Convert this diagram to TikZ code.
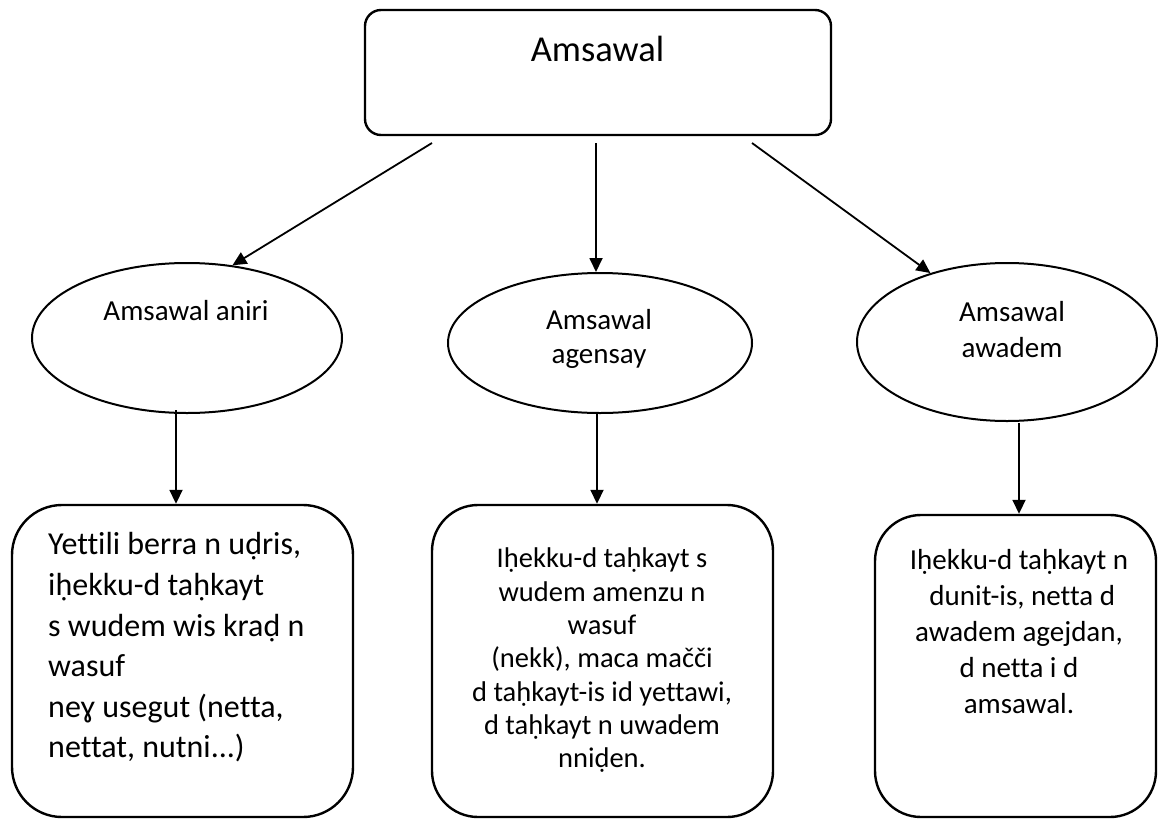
\documentclass[tikz,border=0pt]{standalone}
\usepackage{fontspec}
\setmainfont{Carlito}[Ligatures=NoCommon]
\usetikzlibrary{arrows.meta,shapes.geometric}
\tikzset{
  rbox/.style={draw, line width=2.4pt, rounded corners=#1, inner sep=0pt},
  oval/.style={draw, ellipse, line width=2pt, inner sep=0pt},
  arr/.style={line width=1.8pt, -{Triangle[length=14pt,width=13pt]}},
  txt/.style={inner sep=0pt, text=black},
}
\begin{document}
\begin{tikzpicture}[x=1pt,y=-1pt]
\useasboundingbox (0,0) rectangle (1158,819);
% top box
\node[rbox=16pt, minimum width=466pt, minimum height=125pt] (top) at (598,72.5) {};
\node[txt, anchor=base, font=\fontsize{36.5}{44}\selectfont] (toptext) at (597.5,61) {Amsawal};
% ellipses
\node[oval, minimum width=310pt, minimum height=150pt] (e1) at (187,338) {};
\node[oval, minimum width=304pt, minimum height=140pt] (e2) at (600,343) {};
\node[oval, minimum width=300pt, minimum height=158pt] (e3) at (1007,342) {};
\node[txt, anchor=base, font=\fontsize{29}{36}\selectfont] (e1t) at (186,320) {Amsawal aniri};
\node[txt, anchor=north, align=center, font=\fontsize{29}{34}\selectfont] (e2t) at (599,309.5) {Amsawal\\agensay};
\node[txt, anchor=north, align=center, font=\fontsize{29}{36}\selectfont] (e3t) at (1012,301.5) {Amsawal\\awadem};
% bottom boxes
\node[rbox=50pt, minimum width=341pt, minimum height=312pt] (b1) at (182.5,661) {};
\node[rbox=46pt, minimum width=341pt, minimum height=312pt] (b2) at (602.5,661) {};
\node[rbox=46pt, minimum width=281pt, minimum height=302pt] (b3) at (1015.5,666) {};
\node[txt, anchor=north west, align=left, font=\fontsize{32}{40.6}\selectfont] (b1t) at (48,532.5) {Yettili berra n uḍris,\\iḥekku-d taḥkayt\\s wudem wis kraḍ n\\wasuf\\neɣ usegut (netta,\\nettat, nutni...)};
\node[txt, anchor=north, align=center, font=\fontsize{28.5}{33.3}\selectfont] (b2t) at (602,548) {Iḥekku-d taḥkayt s\\wudem amenzu n\\wasuf\\(nekk), maca mačči\\d taḥkayt-is id yettawi,\\d taḥkayt n uwadem\\nniḍen.};
\node[txt, anchor=north, align=center, font=\fontsize{29}{35.8}\selectfont] (b3t) at (1019,549.5) {Iḥekku-d taḥkayt n\\\ dunit-is, netta d\\awadem agejdan,\\d netta i d\\amsawal.};
% connectors
\coordinate (s1) at (432,143);
\coordinate (s2) at (596,143);
\coordinate (s3) at (752,143);
\draw[arr] (s1) -- (e1.58);
\draw[arr] (s2) -- (s2 |- e2.north);
\draw[arr] (s3) -- (e3.138);
\coordinate (d1) at (176,410);
\coordinate (d2) at (597,413);
\coordinate (d3) at (1019,423);
\draw[arr] (d1) -- (d1 |- b1.north);
\draw[arr] (d2) -- (d2 |- b2.north);
\draw[arr] (d3) -- (d3 |- b3.north);
\end{tikzpicture}
\end{document}
